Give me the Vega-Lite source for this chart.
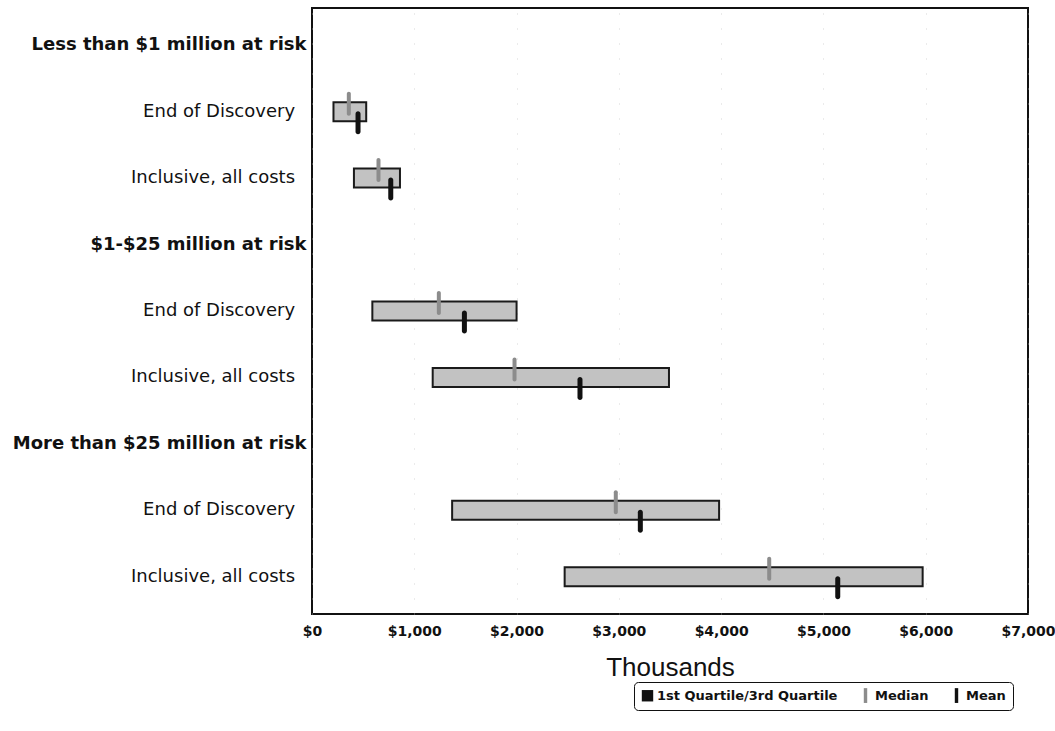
{
  "$schema": "https://vega.github.io/schema/vega-lite/v6.json",
  "autosize": {"type": "none"},
  "padding": {"left": 312, "top": 8, "right": 27, "bottom": 117},
  "width": 716,
  "height": 606,
  "background": "white",
  "config": {
    "font": "DejaVu Sans",
    "view": {"stroke": "#111111", "strokeWidth": 2}
  },
  "data": {
    "values": [
      {"row": "End of Discovery|1", "q1": 210, "q3": 530, "median": 360, "mean": 450},
      {"row": "Inclusive, all costs|1", "q1": 410, "q3": 860, "median": 650, "mean": 770},
      {"row": "End of Discovery|2", "q1": 590, "q3": 2000, "median": 1240, "mean": 1490},
      {"row": "Inclusive, all costs|2", "q1": 1180, "q3": 3490, "median": 1980, "mean": 2620},
      {"row": "End of Discovery|3", "q1": 1370, "q3": 3980, "median": 2970, "mean": 3210},
      {"row": "Inclusive, all costs|3", "q1": 2470, "q3": 5970, "median": 4470, "mean": 5140}
    ]
  },
  "encoding": {
    "y": {
      "field": "row",
      "type": "nominal",
      "scale": {
        "domain": ["Less than $1 million at risk", "End of Discovery|1", "Inclusive, all costs|1", "$1-$25 million at risk", "End of Discovery|2", "Inclusive, all costs|2", "More than $25 million at risk", "End of Discovery|3", "Inclusive, all costs|3"],
        "paddingInner": 0,
        "paddingOuter": 0.06
      },
      "axis": {
        "title": null,
        "domain": false,
        "ticks": false,
        "grid": false,
        "labelPadding": 6,
        "labelLimit": 320,
        "labelFont": "DejaVu Sans",
        "labelFontSize": 18,
        "labelColor": "#111111",
        "labelFontWeight": {"condition": {"test": "indexof(datum.value, '|') < 0", "value": "bold"}, "value": "normal"},
        "labelExpr": "indexof(datum.value, '|') >= 0 ? split(datum.value, '|')[0] + '\\u2007\\u200b' : datum.value"
      }
    }
  },
  "layer": [
    {
      "mark": {"type": "bar", "height": 19, "fill": "#c2c2c2", "stroke": "#1a1a1a", "strokeWidth": 2, "opacity": 1},
      "encoding": {
        "x": {
          "field": "q1",
          "type": "quantitative",
          "scale": {"domain": [0, 7000], "nice": false, "zero": true},
          "axis": {
            "title": "Thousands",
            "titleFont": "Liberation Sans",
            "titleFontSize": 26,
            "titleFontWeight": "normal",
            "titleColor": "#111111",
            "titlePadding": 16,
            "values": [0, 1000, 2000, 3000, 4000, 5000, 6000, 7000],
            "labelExpr": "'$' + format(datum.value, ',')",
            "labelFont": "DejaVu Sans",
            "labelFontSize": 14,
            "labelFontWeight": "bold",
            "labelColor": "#111111",
            "labelPadding": 10,
            "labelFlush": false,
            "domain": false,
            "ticks": false,
            "grid": true,
            "gridColor": "#bbbbbb",
            "gridDash": [1, 14],
            "gridOpacity": 0.6
          }
        },
        "x2": {"field": "q3"}
      }
    },
    {
      "mark": {"type": "point", "opacity": 0, "filled": true},
      "encoding": {
        "x": {"field": "q1", "type": "quantitative"},
        "color": {
          "datum": "1st Quartile/3rd Quartile",
          "type": "nominal",
          "scale": {"domain": ["1st Quartile/3rd Quartile", "Median", "Mean"], "range": ["#111111", "#8c8c8c", "#111111"]},
          "legend": {
            "title": null,
            "orient": "none",
            "legendX": 322,
            "legendY": 674,
            "direction": "horizontal",
            "strokeColor": "#111111",
            "cornerRadius": 4,
            "padding": 7,
            "fillColor": "white",
            "labelFont": "DejaVu Sans",
            "labelFontSize": 13,
            "labelFontWeight": "bold",
            "labelColor": "#111111",
            "labelLimit": 300,
            "labelOffset": 3,
            "symbolType": "square",
            "symbolSize": 130,
            "symbolOpacity": 1,
            "symbolStrokeWidth": 0,
            "columnPadding": 21,
            "encode": {
              "symbols": {
                "update": {
                  "shape": {"signal": "datum.value === '1st Quartile/3rd Quartile' ? 'square' : 'M-0.3,-1.3H0.3V1.3H-0.3Z'"}
                }
              }
            }
          }
        }
      }
    },
    {
      "mark": {"type": "tick", "size": 24, "thickness": 4, "yOffset": -8, "cornerRadius": 2, "opacity": 1},
      "encoding": {
        "x": {"field": "median", "type": "quantitative"},
        "color": {"datum": "Median", "type": "nominal", "legend": null}
      }
    },
    {
      "mark": {"type": "tick", "size": 23, "thickness": 5, "yOffset": 11, "cornerRadius": 2.5, "opacity": 1},
      "encoding": {
        "x": {"field": "mean", "type": "quantitative"},
        "color": {"datum": "Mean", "type": "nominal", "legend": null}
      }
    }
  ]
}
